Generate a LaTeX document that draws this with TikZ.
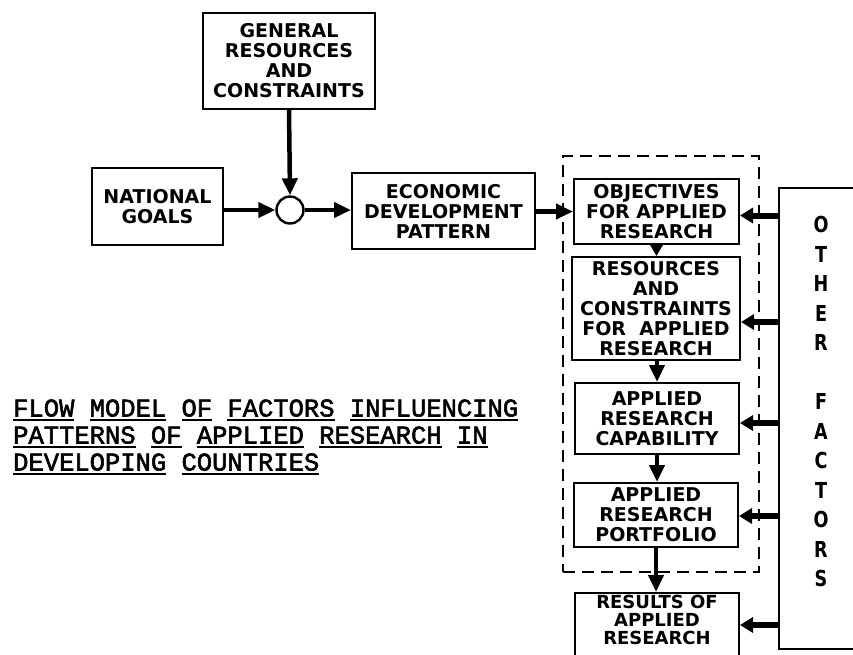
\documentclass[tikz,border=0pt]{standalone}
\usepackage{fontspec}
\usepackage{graphicx}
\usetikzlibrary{arrows.meta,calc}

% lettering for the blocks and the typewritten caption
\newfontfamily\boxfont{DejaVu Sans}
\newfontfamily\typefont[FakeBold=2.2]{Liberation Mono}

% underline a single word
\newcommand\wordrule[1]{\setbox0\hbox{#1}\rlap{\rule[-4.5pt]{\wd0}{1.6pt}}\box0\relax}

\tikzset{
  block/.style={draw, line width=2pt, align=center, inner sep=0pt,
    font={\boxfont\bfseries\fontsize{19pt}{20pt}\selectfont}},
  blocktext/.style={inner sep=0pt, align=center,
    font={\boxfont\bfseries\fontsize{18pt}{18pt}\selectfont}},
  groupbox/.style={draw, line width=2pt, dash pattern=on 12pt off 7pt, inner sep=0pt},
  junction/.style={draw, circle, line width=2.4pt, minimum size=27pt, inner sep=0pt},
  flow/.style={line width=4.5pt, -{Triangle[length=17pt,width=15pt]}},
  shortflow/.style={line width=3pt, -{Triangle[length=11pt,width=12pt]}},
  sideflow/.style={line width=6pt, -{Triangle[length=13pt,width=15pt]}},
  caption/.style={anchor=base west, inner sep=0pt,
    font={\typefont\fontsize{25.5pt}{27pt}\selectfont}},
  vertical/.style={inner sep=0pt, align=center,
    font={\boxfont\bfseries\fontsize{22pt}{29.5pt}\selectfont}}
}

\begin{document}
\begin{tikzpicture}[x=1pt,y=-1pt]
  \useasboundingbox (0,0) rectangle (853,654);
  \clip (0,0) rectangle (853,654);

  % upper chain
  \node[block, minimum width=172pt, minimum height=96pt] (gen) at (289,60.5)
    {GENERAL\\RESOURCES\\AND\\CONSTRAINTS};
  \node[block, minimum width=131pt, minimum height=77pt] (nat) at (157.5,206.5)
    {NATIONAL\\GOALS};
  \node[junction] (join) at (290,210) {};
  \node[block, minimum width=183pt, minimum height=76pt] (econ) at (443.5,211)
    {ECONOMIC\\DEVELOPMENT\\PATTERN};

  % applied research group
  \node[groupbox, minimum width=196pt, minimum height=416pt] (group) at (661,364) {};
  \node[block, minimum width=165pt, minimum height=65pt] (obj) at (656.5,211.5)
    {OBJECTIVES\\FOR APPLIED\\RESEARCH};
  \node[block, minimum width=168pt, minimum height=103pt] (res) at (656,308.5)
    {RESOURCES\\AND\\CONSTRAINTS\\FOR\ \ APPLIED\\RESEARCH};
  \node[block, minimum width=164pt, minimum height=71pt] (cap) at (657,418.5)
    {APPLIED\\RESEARCH\\CAPABILITY};
  \node[block, minimum width=164pt, minimum height=64pt] (port) at (656,515)
    {APPLIED\\RESEARCH\\PORTFOLIO};
  % the lower block runs on past the sheet edge
  \node[block, minimum width=164pt, minimum height=80pt] (results) at (657,633) {};
  \node[blocktext] (resultstext) at (657,620) {RESULTS OF\\APPLIED\\RESEARCH};

  % other factors column
  \node[draw, line width=2.4pt, minimum width=121pt, minimum height=461pt, inner sep=0pt]
    (other) at (839.5,418.5) {};
  \node[vertical] (otherlbl) at (821,404)
    {\scalebox{0.8}[1]{\begin{tabular}{@{}c@{}}O\\T\\H\\E\\R\\ \\F\\A\\C\\T\\O\\R\\S\end{tabular}}};

  % caption
  \node[caption] (cap1) at (13,416.5)
    {\wordrule{FLOW} \wordrule{MODEL} \wordrule{OF} \wordrule{FACTORS} \wordrule{INFLUENCING}};
  \node[caption] (cap2) at (13,443.5)
    {\wordrule{PATTERNS} \wordrule{OF} \wordrule{APPLIED} \wordrule{RESEARCH} \wordrule{IN}};
  \node[caption] (cap3) at (13,470.5)
    {\wordrule{DEVELOPING} \wordrule{COUNTRIES}};

  % connectors
  \draw[flow] (gen.south) -- (join.north);
  \draw[flow] (nat.east |- join) -- (join.west);
  \draw[flow] (join.east) -- (econ.west |- join);
  \draw[flow] (econ.east |- obj) -- (obj.west);

  \draw[shortflow] (obj.south) -- (obj.south |- res.north);
  \draw[flow] (res.south -| cap.north) -- (cap.north);
  \draw[flow] (cap.south) -- (cap.south |- port.north);
  \draw[flow] (port.south) -- (port.south |- results.north);

  \coordinate (inobj) at ($(obj.east)+(0,4)$);
  \coordinate (inres) at ($(res.east)+(0,13.5)$);
  \coordinate (incap) at ($(cap.east)+(0,4.5)$);
  \coordinate (inport) at ($(port.east)+(0,1)$);
  \coordinate (inresults) at ($(results.east |- resultstext)+(0,5)$);
  \foreach \t in {inobj,inres,incap,inport,inresults}
    \draw[sideflow] (\t -| other.west) -- (\t);
\end{tikzpicture}
\end{document}
